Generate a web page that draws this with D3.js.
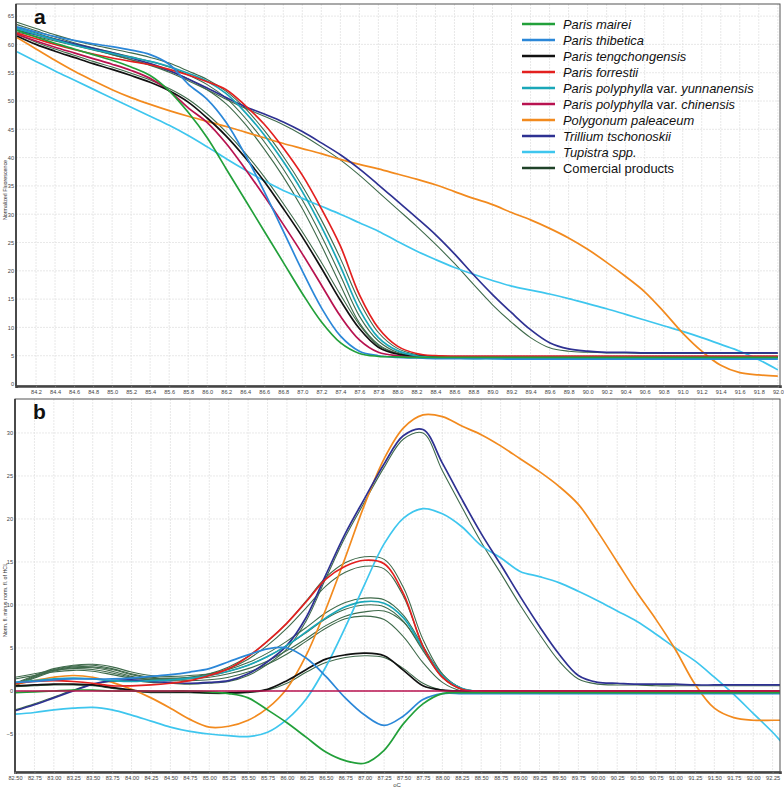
<!DOCTYPE html>
<html><head><meta charset="utf-8">
<script src="https://cdn.jsdelivr.net/npm/d3@7"></script>
<style>body{margin:0;background:#fff;} svg{display:block;font-family:"Liberation Sans",Arial,sans-serif;}</style>
</head><body><svg id="c" width="784" height="789"></svg>
<script>
// ---------- Panel a: normalized melting curves ----------
const tempA = [84.0,84.2,84.4,84.6,84.8,85.0,85.2,85.4,85.6,85.8,86.0,86.2,86.4,86.6,86.8,87.0,87.2,87.4,87.6,87.8,88.0,88.2,88.4,88.6,88.8,89.0,89.2,89.4,89.6,89.8,90.0,90.2,90.4,90.6,90.8,91.0,91.2,91.4,91.6,91.8,92.0];
const maireiA = [62.5,61.3,60.2,59.2,58.2,57.2,56.0,54.5,51.8,48.0,43.5,38.0,32.5,27.0,21.5,16.0,11.0,7.3,5.4,4.9,4.8,4.7,4.7,4.7,4.7,4.7,4.7,4.7,4.7,4.7,4.7,4.7,4.7,4.7,4.7,4.7,4.7,4.7,4.7,4.7,4.7];
const thibeticaA = [63.1,62.2,61.4,60.7,60.1,59.6,59.0,58.2,56.5,53.0,50.3,46.2,40.5,34.0,27.0,20.0,13.5,8.5,5.8,5.0,4.7,4.6,4.5,4.5,4.5,4.5,4.4,4.4,4.4,4.4,4.4,4.4,4.4,4.4,4.4,4.4,4.4,4.4,4.4,4.4,4.4];
const tengchongA = [61.5,60.0,58.8,57.7,56.6,55.6,54.5,53.3,51.8,49.8,47.0,43.8,40.0,35.8,31.0,26.0,20.5,14.8,9.8,6.5,5.3,5.0,4.9,4.8,4.8,4.8,4.8,4.8,4.8,4.8,4.8,4.8,4.8,4.8,4.8,4.8,4.8,4.8,4.8,4.8,4.8];
const forrestiiA = [62.0,61.0,60.0,59.1,58.3,57.6,57.0,56.4,55.6,54.6,53.4,52.0,49.2,45.9,41.7,36.9,31.0,24.4,15.8,9.9,6.7,5.4,5.0,4.9,4.9,4.9,4.9,4.9,4.9,4.9,4.9,4.9,4.9,4.9,4.9,4.9,4.9,4.9,4.9,4.9,4.9];
const yunnanA = [62.8,61.8,60.8,59.9,59.1,58.4,57.7,57.0,56.1,54.9,53.5,51.3,48.0,44.0,39.3,34.0,27.8,20.8,13.2,8.2,5.9,5.0,4.7,4.6,4.5,4.5,4.5,4.5,4.5,4.5,4.5,4.5,4.5,4.5,4.5,4.5,4.5,4.5,4.5,4.5,4.5];
const chinensisA = [61.8,60.6,59.5,58.5,57.5,56.5,55.4,54.0,51.8,48.8,46.2,42.5,38.0,33.2,28.2,23.0,17.5,12.0,7.8,5.6,5.0,4.9,4.9,4.9,4.9,4.9,4.9,4.9,4.9,4.9,4.9,4.9,4.9,4.9,4.9,4.9,4.9,4.9,4.9,4.9,4.9];
const paleaceumA = [61.2,59.2,57.2,55.3,53.6,52.0,50.6,49.4,48.3,47.3,46.4,45.5,44.5,43.5,42.5,41.6,40.7,39.7,38.8,38.0,37.1,36.2,35.2,34.0,32.8,31.7,30.3,29.0,27.5,25.8,23.8,21.5,19.0,16.3,12.8,9.0,5.8,3.3,2.0,1.6,1.4];
const trilliumA = [62.5,61.7,60.9,60.1,59.3,58.5,57.6,56.6,55.4,53.9,52.3,50.6,49.0,47.7,46.3,44.6,42.6,40.5,38.0,35.2,32.3,29.4,26.4,23.0,19.3,15.8,12.6,9.6,7.3,6.2,5.8,5.6,5.6,5.5,5.5,5.5,5.5,5.5,5.5,5.5,5.5];
const tupistraA = [58.7,57.0,55.3,53.7,52.1,50.5,48.9,47.3,45.7,43.9,41.9,39.8,37.8,35.9,34.2,32.8,31.4,30.0,28.5,27.0,25.2,23.5,22.0,20.6,19.4,18.3,17.3,16.6,15.9,15.1,14.2,13.3,12.3,11.3,10.3,9.3,8.2,7.0,5.8,4.3,2.5];
const commA1 = [62.2,61.4,60.6,59.8,59.0,58.2,57.3,56.3,55.1,53.6,52.0,50.3,48.7,47.3,45.8,44.0,41.9,39.6,36.9,33.9,30.9,27.9,24.7,21.3,17.6,14.0,10.9,8.2,6.4,5.8,5.6,5.5,5.5,5.4,5.4,5.4,5.4,5.4,5.4,5.4,5.4];
const commA2 = [63.9,62.8,61.7,60.7,59.9,59.2,58.5,57.7,56.7,55.3,53.8,51.7,48.7,44.8,40.2,35.0,29.0,22.2,14.6,9.1,6.3,5.2,4.9,4.8,4.8,4.8,4.8,4.8,4.8,4.8,4.8,4.8,4.8,4.8,4.8,4.8,4.8,4.8,4.8,4.8,4.8];
const commA3 = [63.5,62.4,61.3,60.3,59.4,58.6,57.8,57.0,56.0,54.6,52.9,50.5,47.0,42.8,38.0,32.5,26.2,19.2,12.0,7.6,5.6,5.0,4.8,4.7,4.7,4.7,4.7,4.7,4.7,4.7,4.7,4.7,4.7,4.7,4.7,4.7,4.7,4.7,4.7,4.7,4.7];
const commA4 = [63.0,62.0,61.0,60.0,59.1,58.2,57.3,56.4,55.3,53.9,52.0,49.5,45.9,41.5,36.6,31.0,24.5,17.5,10.8,7.0,5.4,4.9,4.7,4.7,4.7,4.7,4.7,4.7,4.7,4.7,4.7,4.7,4.7,4.7,4.7,4.7,4.7,4.7,4.7,4.7,4.7];
const commA5 = [61.8,60.4,59.2,58.1,57.0,56.0,54.9,53.7,52.2,50.3,47.7,44.5,40.8,36.6,31.9,26.9,21.5,15.8,10.5,6.8,5.4,5.0,4.9,4.8,4.8,4.8,4.8,4.8,4.8,4.8,4.8,4.8,4.8,4.8,4.8,4.8,4.8,4.8,4.8,4.8,4.8];
const ticksAx = [84.2,84.4,84.6,84.8,85.0,85.2,85.4,85.6,85.8,86.0,86.2,86.4,86.6,86.8,87.0,87.2,87.4,87.6,87.8,88.0,88.2,88.4,88.6,88.8,89.0,89.2,89.4,89.6,89.8,90.0,90.2,90.4,90.6,90.8,91.0,91.2,91.4,91.6,91.8,92.0];
const ticksAy = [0,5,10,15,20,25,30,35,40,45,50,55,60,65];

// ---------- Panel b: difference curves ----------
const tempB = [82.5,82.75,83.0,83.25,83.5,83.75,84.0,84.25,84.5,84.75,85.0,85.25,85.5,85.75,86.0,86.25,86.5,86.75,87.0,87.25,87.5,87.75,88.0,88.25,88.5,88.75,89.0,89.25,89.5,89.75,90.0,90.25,90.5,90.75,91.0,91.25,91.5,91.75,92.0,92.25,92.35];
const maireiB = [-0.2,-0.1,0.0,0.1,0.1,0.0,0.0,0.0,0.0,0.0,-0.1,-0.3,-0.8,-2.2,-3.7,-5.4,-7.1,-8.1,-8.4,-6.9,-3.8,-1.5,-0.3,-0.2,-0.2,-0.2,-0.2,-0.2,-0.2,-0.2,-0.2,-0.2,-0.2,-0.2,-0.2,-0.2,-0.2,-0.2,-0.2,-0.2,-0.2];
const thibeticaB = [1.0,1.1,1.3,1.4,1.4,1.4,1.5,1.7,1.9,2.2,2.6,3.4,4.2,4.9,5.0,3.8,1.7,-0.8,-2.8,-4.0,-2.9,-1.0,-0.3,-0.3,-0.3,-0.3,-0.3,-0.3,-0.3,-0.3,-0.3,-0.3,-0.3,-0.3,-0.3,-0.3,-0.3,-0.3,-0.3,-0.3,-0.3];
const tengchongB = [0.6,0.7,0.8,0.8,0.7,0.4,0.1,-0.1,-0.1,-0.1,-0.2,-0.2,-0.1,0.2,1.2,2.5,3.7,4.2,4.4,4.1,2.4,0.6,0.1,0.0,0.0,0.0,0.0,0.0,0.0,0.0,0.0,0.0,0.0,0.0,0.0,0.0,0.0,0.0,0.0,0.0,0.0];
const forrestiiB = [0.9,1.1,1.2,1.1,0.9,0.6,0.6,0.7,0.9,1.2,1.8,2.6,4.0,5.8,7.9,10.4,13.0,14.5,15.2,14.8,11.3,5.2,1.6,0.2,0.0,0.0,0.0,0.0,0.0,0.0,0.0,0.0,0.0,0.0,0.0,0.0,0.0,0.0,0.0,0.0,0.0];
const yunnanB = [1.0,1.2,1.4,1.5,1.4,1.2,1.1,1.2,1.3,1.5,1.8,2.3,3.0,4.0,5.3,6.9,8.5,9.8,10.4,10.2,8.5,5.0,1.8,0.3,-0.1,-0.2,-0.2,-0.2,-0.2,-0.2,-0.2,-0.2,-0.2,-0.2,-0.2,-0.2,-0.2,-0.2,-0.2,-0.2,-0.2];
const chinensisB = [0,0,0,0,0,0,0,0,0,0,0,0,0,0,0,0,0,0,0,0,0,0,0,0,0,0,0,0,0,0,0,0,0,0,0,0,0,0,0,0,0];
const paleaceumB = [0.8,1.2,1.6,1.8,1.6,1.0,0.2,-0.8,-2.0,-3.3,-4.2,-4.1,-3.4,-2.0,0.3,4.2,9.5,15.5,21.7,27.0,30.6,32.1,31.9,30.8,29.8,28.5,27.0,25.5,23.8,21.7,18.5,15.0,11.5,8.3,4.8,0.8,-2.0,-3.1,-3.4,-3.4,-3.4];
const trilliumB = [-2.3,-1.6,-0.8,0.0,0.8,1.2,1.3,1.1,1.0,0.9,1.0,1.2,2.0,3.4,5.3,8.6,13.5,18.3,22.4,26.4,29.7,30.4,26.5,22.3,18.3,14.7,11.0,7.5,4.3,1.8,1.0,0.9,0.8,0.8,0.8,0.7,0.7,0.7,0.7,0.7,0.7];
const tupistraB = [-2.7,-2.5,-2.2,-2.0,-1.9,-2.2,-2.8,-3.5,-4.2,-4.7,-5.0,-5.2,-5.3,-4.8,-3.3,-0.9,2.8,7.4,12.4,17.1,20.1,21.2,20.6,19.1,16.9,15.5,13.9,13.3,12.6,11.6,10.5,9.3,8.1,6.6,5.0,3.5,1.6,-0.4,-2.6,-4.8,-5.8];
const commB1 = [-2.2,-1.5,-0.7,0.1,0.8,1.1,1.2,1.0,0.9,0.8,0.9,1.1,1.8,3.1,4.9,8.2,13.1,17.9,22.0,26.0,29.3,30.0,25.6,21.4,17.3,13.7,10.0,6.6,3.5,1.4,0.8,0.7,0.7,0.6,0.6,0.6,0.6,0.6,0.6,0.6,0.6];
const commB2 = [1.6,2.0,2.4,2.6,2.5,2.1,1.6,1.4,1.4,1.6,2.0,2.8,4.0,5.8,7.9,10.5,13.2,14.9,15.6,15.3,12.0,6.0,2.0,0.3,0.0,0.0,0.0,0.0,0.0,0.0,0.0,0.0,0.0,0.0,0.0,0.0,0.0,0.0,0.0,0.0,0.0];
const commB3 = [1.4,1.8,2.2,2.4,2.3,1.9,1.5,1.3,1.3,1.5,1.9,2.6,3.7,5.3,7.3,9.7,12.2,13.8,14.5,14.2,11.0,5.3,1.6,0.2,0.0,0.0,0.0,0.0,0.0,0.0,0.0,0.0,0.0,0.0,0.0,0.0,0.0,0.0,0.0,0.0,0.0];
const commB4 = [0.9,1.8,2.6,3.0,3.1,2.8,2.2,1.8,1.7,1.8,2.0,2.5,3.3,4.4,5.8,7.4,9.1,10.3,10.8,10.6,8.8,5.2,1.9,0.3,-0.1,-0.1,-0.1,-0.1,-0.1,-0.1,-0.1,-0.1,-0.1,-0.1,-0.1,-0.1,-0.1,-0.1,-0.1,-0.1,-0.1];
const commB5 = [0.8,1.7,2.5,2.9,3.0,2.6,2.0,1.6,1.5,1.6,1.8,2.3,3.0,4.0,5.3,6.8,8.4,9.5,10.0,9.8,8.1,4.7,1.6,0.2,-0.1,-0.1,-0.1,-0.1,-0.1,-0.1,-0.1,-0.1,-0.1,-0.1,-0.1,-0.1,-0.1,-0.1,-0.1,-0.1,-0.1];
const commB6 = [0.7,1.6,2.4,2.8,2.8,2.5,1.9,1.5,1.4,1.4,1.6,2.0,2.6,3.5,4.7,6.1,7.6,8.7,9.2,9.3,8.0,4.9,1.8,0.3,-0.1,-0.1,-0.1,-0.1,-0.1,-0.1,-0.1,-0.1,-0.1,-0.1,-0.1,-0.1,-0.1,-0.1,-0.1,-0.1,-0.1];
const commB7 = [0.6,1.5,2.3,2.7,2.7,2.3,1.7,1.3,1.2,1.2,1.3,1.6,2.2,3.1,4.3,5.8,7.3,8.4,8.7,8.3,6.3,3.3,1.0,0.0,-0.1,-0.1,-0.1,-0.1,-0.1,-0.1,-0.1,-0.1,-0.1,-0.1,-0.1,-0.1,-0.1,-0.1,-0.1,-0.1,-0.1];
const commB8 = [0.5,0.6,0.7,0.7,0.6,0.3,0.0,-0.2,-0.2,-0.2,-0.3,-0.3,-0.2,0.1,0.9,2.2,3.3,3.9,4.1,3.9,2.6,0.9,0.1,-0.1,-0.1,-0.1,-0.1,-0.1,-0.1,-0.1,-0.1,-0.1,-0.1,-0.1,-0.1,-0.1,-0.1,-0.1,-0.1,-0.1,-0.1];
const ticksBx = [82.5,82.75,83.0,83.25,83.5,83.75,84.0,84.25,84.5,84.75,85.0,85.25,85.5,85.75,86.0,86.25,86.5,86.75,87.0,87.25,87.5,87.75,88.0,88.25,88.5,88.75,89.0,89.25,89.5,89.75,90.0,90.25,90.5,90.75,91.0,91.25,91.5,91.75,92.0,92.25];
const ticksBy = [-5,0,5,10,15,20,25,30];

// ---------- Legend ----------
const speciesNames = ["Paris mairei","Paris thibetica","Paris tengchongensis","Paris forrestii","Paris polyphylla var. yunnanensis","Paris polyphylla var. chinensis","Polygonum paleaceum","Trillium tschonoskii","Tupistra spp.","Comercial products"];
const speciesColors = ["#22a03a","#2b87d8","#111111","#e3201f","#1aa7b8","#b8124f","#f28a1e","#2e3192","#3ec6ee","#1f4228"];

const svg = d3.select("#c");
const speciesA = [maireiA,thibeticaA,tengchongA,forrestiiA,yunnanA,chinensisA,paleaceumA,trilliumA,tupistraA];
const speciesB = [maireiB,thibeticaB,tengchongB,forrestiiB,yunnanB,chinensisB,paleaceumB,trilliumB,tupistraB];
const commA = [commA1,commA2,commA3,commA4,commA5];
const commB = [commB1,commB2,commB3,commB4,commB5,commB6,commB7,commB8];

function drawPanel(o) {
  const g = svg.append("g");
  const x = d3.scaleLinear().domain(o.xDom).range([o.left, o.right]);
  const y = d3.scaleLinear().domain(o.yDom).range([o.bottom, o.top]);
  const clipId = "clip" + o.id;
  svg.append("clipPath").attr("id", clipId).append("rect")
    .attr("x", o.left).attr("y", o.top).attr("width", o.right - o.left).attr("height", o.bottom - o.top);
  // grid
  g.append("g").selectAll("line").data(o.xGrid).join("line")
    .attr("x1", d => x(d)).attr("x2", d => x(d)).attr("y1", o.top).attr("y2", o.bottom)
    .attr("stroke", "#e2e2e2").attr("stroke-width", 0.8).attr("stroke-dasharray", "2,1");
  g.append("g").selectAll("line").data(o.yGrid).join("line")
    .attr("y1", d => y(d)).attr("y2", d => y(d)).attr("x1", o.left).attr("x2", o.right)
    .attr("stroke", "#e2e2e2").attr("stroke-width", 0.8).attr("stroke-dasharray", "2,1");
  // lines
  const line = d3.line().defined(d => d[1] != null).x(d => x(d[0])).y(d => y(d[1])).curve(d3.curveCatmullRom.alpha(0.5));
  const lg = g.append("g").attr("clip-path", `url(#${clipId})`);
  o.comm.forEach(vals => {
    lg.append("path").datum(o.temps.map((t, i) => [t, vals[i]]))
      .attr("d", line).attr("fill", "none").attr("stroke", "#3f6a4b").attr("stroke-width", 1.1);
  });
  o.order.forEach(k => {
    lg.append("path").datum(o.temps.map((t, i) => [t, o.species[k][i]]))
      .attr("d", line).attr("fill", "none").attr("stroke", speciesColors[k]).attr("stroke-width", 1.7);
  });
  // frame
  g.append("rect").attr("x", o.left).attr("y", o.top).attr("width", o.right - o.left).attr("height", o.bottom - o.top)
    .attr("fill", "none").attr("stroke", "#555").attr("stroke-width", 1);
  g.append("line").attr("x1", o.left).attr("x2", o.left).attr("y1", o.top).attr("y2", o.bottom).attr("stroke", "#333").attr("stroke-width", 1.6);
  // axes
  const ax = d3.axisBottom(x).tickValues(o.xTicks).tickFormat(o.xFmt).tickSize(2).tickPadding(2);
  const axg = g.append("g").attr("transform", `translate(0,${o.bottom})`).call(ax);
  axg.select(".domain").attr("stroke", "#444").attr("stroke-width", 2.6);
  axg.selectAll("text").attr("font-size", 5.6).attr("fill", "#444").attr("font-family", "Liberation Sans, Arial, sans-serif");
  axg.selectAll(".tick line").attr("stroke", "#777");
  const ay = d3.axisLeft(y).tickValues(o.yTicks).tickFormat(d3.format("d")).tickSize(0).tickPadding(2);
  const ayg = g.append("g").attr("transform", `translate(${o.left},0)`).call(ay);
  ayg.select(".domain").remove();
  ayg.selectAll("text").attr("font-size", 5.6).attr("fill", "#444").attr("font-family", "Liberation Sans, Arial, sans-serif");
  // y title
  g.append("text").attr("transform", `translate(6.5,${o.yTitleY}) rotate(-90)`).attr("text-anchor", "middle")
    .attr("font-size", 5.3).attr("fill", "#333").text(o.yTitle);
  // panel letter
  g.append("text").attr("x", o.left + 18).attr("y", o.top + 20).attr("font-size", 21).attr("font-weight", "bold")
    .attr("fill", "#111").text(o.letter);
  return {x, y, g};
}

const pA = drawPanel({
  id: "A", left: 16, right: 780, top: 4, bottom: 386,
  xDom: [83.9895, 92.023], yDom: [-0.35, 67.14],
  xGrid: ticksAx, yGrid: ticksAy.slice(1), xTicks: ticksAx, yTicks: ticksAy,
  xFmt: d3.format(".1f"), temps: tempA, species: speciesA, comm: commA,
  order: [8, 6, 7, 5, 2, 4, 3, 1, 0],
  yTitle: "Normalized Fluorescence", yTitleY: 190, letter: "a"
});
const pB = drawPanel({
  id: "B", left: 15, right: 780, top: 399, bottom: 772,
  xDom: [82.5, 92.345], yDom: [-9.42, 33.95],
  xGrid: ticksBx.slice(1), yGrid: ticksBy.concat([-10]), xTicks: ticksBx, yTicks: ticksBy,
  xFmt: d3.format(".2f"), temps: tempB, species: speciesB, comm: commB,
  order: [8, 6, 7, 2, 4, 3, 1, 0, 5],
  yTitle: "Norm. fl. minus norm. fl. of HCL", yTitleY: 600, letter: "b"
});
svg.append("text").attr("x", 397).attr("y", 787).attr("text-anchor", "middle").attr("font-size", 6).attr("fill", "#444").text("oC");

// legend
const leg = svg.append("g");
speciesNames.forEach((name, i) => {
  const yy = 24 + i * 16;
  leg.append("line").attr("x1", 522).attr("x2", 555).attr("y1", yy).attr("y2", yy)
    .attr("stroke", speciesColors[i]).attr("stroke-width", 2.4);
  const t = leg.append("text").attr("x", 563).attr("y", yy + 4.5).attr("font-size", 12.9).attr("fill", "#111");
  if (i === 9) { t.text(name); return; }
  const parts = name.split(" var. ");
  t.append("tspan").attr("font-style", "italic").text(parts[0]);
  if (parts.length > 1) {
    t.append("tspan").text(" var. ");
    t.append("tspan").attr("font-style", "italic").text(parts[1]);
  }
});
</script></body></html>
